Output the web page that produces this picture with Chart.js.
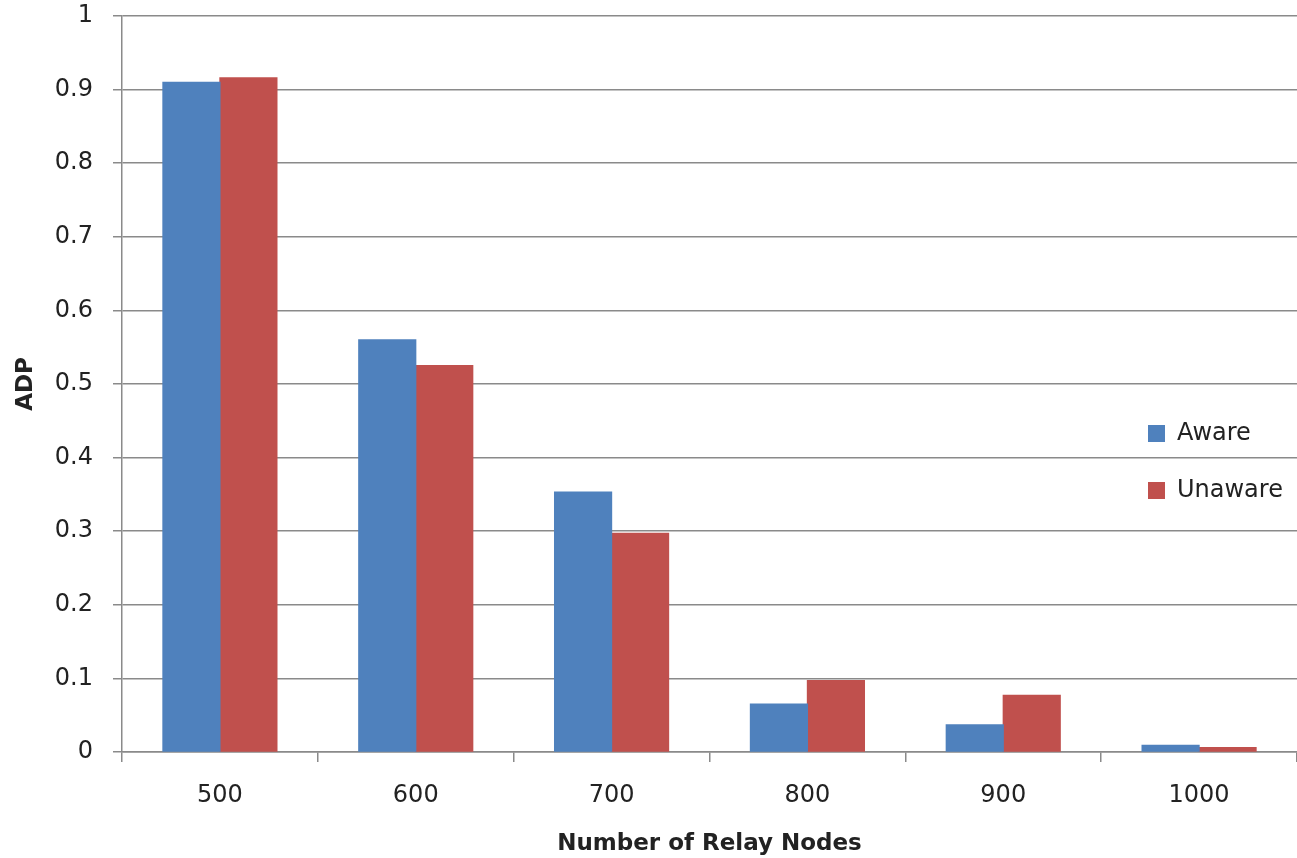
<!DOCTYPE html>
<html>
<head>
<meta charset="utf-8">
<script src="https://cdn.jsdelivr.net/npm/chart.js@4/dist/chart.umd.min.js"></script>
<style>
  html, body { margin: 0; padding: 0; background: #ffffff; }
  #wrap { width: 1297px; height: 858px; position: relative; }
</style>
</head>
<body>
<div id="wrap"><canvas id="chart" width="1297" height="858"></canvas></div>
<script>
// Relay node counts on the x axis
const relayNodes = ['500', '600', '700', '800', '900', '1000'];
// ADP per relay count
const awareADP   = [0.910, 0.560, 0.353, 0.065, 0.037, 0.009];
const unawareADP = [0.916, 0.525, 0.297, 0.097, 0.077, 0.006];
const seriesNames = ['Aware', 'Unaware'];
// y axis tick labels, bottom to top
const yTickLabels = ['0', '0.1', '0.2', '0.3', '0.4', '0.5', '0.6', '0.7', '0.8', '0.9', '1'];
const xTitle = 'Number of Relay Nodes';
const yTitle = 'ADP';

const BLUE = '#4F81BD';
const RED = '#C0504D';
const GRID = '#8a8a8a';
const TEXT = '#222222';
const FONT = 'DejaVu Sans';

// Legend drawn inside the plot on the right, next to the series
const sideLegend = {
  id: 'sideLegend',
  afterDraw(chart) {
    const ctx = chart.ctx;
    const rows = [433, 490];
    ctx.save();
    ctx.font = '24px "' + FONT + '"';
    ctx.textBaseline = 'middle';
    ctx.textAlign = 'left';
    chart.data.datasets.forEach((ds, i) => {
      const y = rows[i];
      ctx.fillStyle = ds.backgroundColor;
      ctx.fillRect(1148, y - 8, 17, 17);
      ctx.fillStyle = TEXT;
      ctx.fillText(ds.label, 1177, y + 1);
    });
    ctx.restore();
  }
};

new Chart(document.getElementById('chart'), {
  type: 'bar',
  data: {
    labels: relayNodes,
    datasets: [
      { label: seriesNames[0], data: awareADP, backgroundColor: BLUE, borderWidth: 0, inflateAmount: 0.6 },
      { label: seriesNames[1], data: unawareADP, backgroundColor: RED, borderWidth: 0, inflateAmount: 0.6 }
    ]
  },
  options: {
    responsive: false,
    animation: false,
    devicePixelRatio: 1,
    layout: { padding: { top: 16, right: 0, bottom: 0, left: 0 } },
    datasets: { bar: { barPercentage: 1.0, categoryPercentage: 0.582 } },
    plugins: {
      legend: { display: false },
      tooltip: { enabled: false }
    },
    scales: {
      x: {
        afterFit(scale) { scale.height = 106; },
        grid: {
          display: true,
          drawOnChartArea: false,
          drawTicks: true,
          offset: true,
          tickLength: 10,
          color: GRID,
          lineWidth: 1.5
        },
        border: { display: true, color: GRID, width: 1.5 },
        ticks: {
          color: TEXT,
          font: { family: FONT, size: 24 },
          padding: 19,
          maxRotation: 0
        },
        title: {
          display: true,
          text: xTitle,
          color: TEXT,
          font: { family: FONT, size: 23, weight: 'bold' },
          padding: { top: 0, bottom: 0 }
        }
      },
      y: {
        min: 0,
        max: 1,
        afterFit(scale) {
          scale.width = 122;
          scale.paddingTop = 0;
          scale.paddingBottom = 0;
        },
        ticks: {
          stepSize: 0.1,
          color: TEXT,
          font: { family: FONT, size: 24 },
          padding: 20,
          callback: (value, index) => yTickLabels[index]
        },
        grid: {
          color: GRID,
          lineWidth: 1.5,
          tickLength: 9
        },
        border: { display: true, color: GRID, width: 1.5 },
        title: {
          display: true,
          text: yTitle,
          color: TEXT,
          font: { family: FONT, size: 23, weight: 'bold' },
          padding: { top: 12, bottom: 0 }
        }
      }
    }
  },
  plugins: [sideLegend]
});
</script>
</body>
</html>
